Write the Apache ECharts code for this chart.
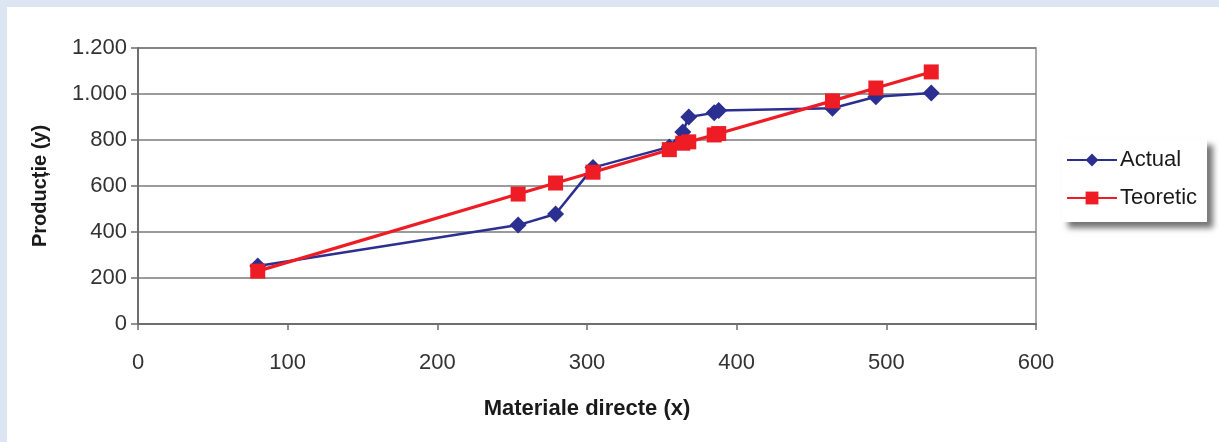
<!DOCTYPE html>
<html>
<head>
<meta charset="utf-8">
<script src="https://cdn.jsdelivr.net/npm/echarts@6/dist/echarts.min.js"></script>
<style>
html,body{margin:0;padding:0;background:#dce6f2;}
#main{width:1219px;height:442px;}
</style>
</head>
<body>
<div id="main"></div>
<script>
// Data
const xValues = [80, 254, 279, 304, 355, 364, 368, 385, 388, 464, 493, 530];
const actualValues = [252, 430, 478, 680, 770, 835, 900, 918, 928, 938, 988, 1004];
const teoreticValues = [230, 565, 613, 660, 758, 786, 792, 822, 828, 970, 1026, 1096];
const seriesNames = ['Actual', 'Teoretic'];
const yTickLabels = ['0', '200', '400', '600', '800', '1.000', '1.200'];
const xTickLabels = ['0', '100', '200', '300', '400', '500', '600'];
const xTitle = 'Materiale directe (x)';
const yTitle = 'Producție (y)';

const chart = echarts.init(document.getElementById('main'), null, {renderer: 'canvas'});
const pairs = vals => xValues.map((x, i) => [x, vals[i]]);

chart.setOption({
  backgroundColor: '#dce6f2',
  animation: false,
  graphic: [{
    type: 'rect', z: -10, silent: true,
    shape: {x: 7, y: 7, width: 1212, height: 435},
    style: {fill: '#ffffff'}
  }],
  grid: {left: 138, right: 183, top: 48, bottom: 118, show: true, borderColor: '#8a8a8a', borderWidth: 1.5, backgroundColor: 'transparent'},
  xAxis: {
    type: 'value', min: 0, max: 600, interval: 100,
    name: xTitle, nameLocation: 'middle', nameGap: 74,
    nameTextStyle: {fontFamily: 'Liberation Sans Narrow, Liberation Sans', fontWeight: 'bold', fontSize: 22, color: '#1a1a1a'},
    axisLine: {show: true, onZero: false, lineStyle: {color: '#6e6e6e', width: 2}},
    axisTick: {show: true, length: 6, lineStyle: {color: '#6e6e6e', width: 1.5}},
    axisLabel: {margin: 28, fontFamily: 'Liberation Sans', fontSize: 22, color: '#333333',
      formatter: v => xTickLabels[Math.round(v / 100)]},
    splitLine: {show: false}
  },
  yAxis: {
    type: 'value', min: 0, max: 1200, interval: 200,
    name: yTitle, nameLocation: 'middle', nameGap: 88, nameRotate: 90,
    nameTextStyle: {fontFamily: 'Liberation Sans', fontWeight: 'bold', fontSize: 20, color: '#1a1a1a'},
    axisLine: {show: true, lineStyle: {color: '#6e6e6e', width: 2}},
    axisTick: {show: true, length: 7, lineStyle: {color: '#6e6e6e', width: 1.5}},
    axisLabel: {margin: 11, fontFamily: 'Liberation Sans', fontSize: 22, color: '#333333',
      formatter: v => yTickLabels[Math.round(v / 200)]},
    splitLine: {show: true, lineStyle: {color: '#7a7a7a', width: 1.5}}
  },
  legend: {
    orient: 'vertical',
    left: 1062, top: 139,
    padding: [10, 10, 13, 4],
    itemGap: 16,
    itemWidth: 50, itemHeight: 16,
    backgroundColor: '#ffffff',
    shadowColor: 'rgba(0,0,0,0.55)', shadowBlur: 6, shadowOffsetX: 6, shadowOffsetY: 6,
    textStyle: {fontFamily: 'Liberation Sans', fontSize: 22, color: '#1a1a1a', padding: [0, 0, 0, -2]},
    data: seriesNames
  },
  series: [
    {
      name: seriesNames[0], type: 'line', data: pairs(actualValues),
      symbol: 'diamond', symbolSize: 17,
      lineStyle: {color: '#2b2f8f', width: 2.5},
      itemStyle: {color: '#2b2f8f'}, z: 3
    },
    {
      name: seriesNames[1], type: 'line', data: pairs(teoreticValues),
      symbol: 'rect', symbolSize: 15,
      lineStyle: {color: '#ee1c25', width: 3.2},
      itemStyle: {color: '#ee1c25'}, z: 4
    }
  ]
});
</script>
</body>
</html>
